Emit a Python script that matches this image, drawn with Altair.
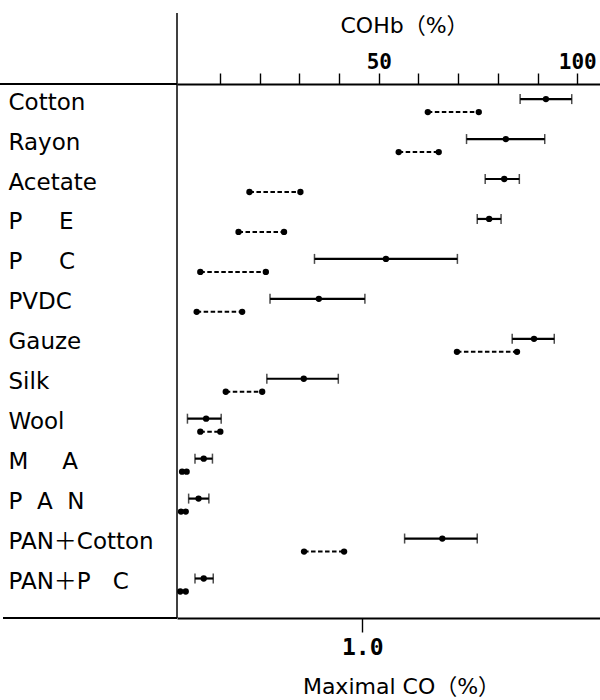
import altair as alt
import pandas as pd

NB = "\u00a0"
materials = [
    "Cotton", "Rayon", "Acetate", "P" + NB * 5 + "E", "P" + NB * 5 + "C", "PVDC",
    "Gauze", "Silk", "Wool", "M" + NB * 4 + "\u2009A", "P" + NB * 2 + "A" + NB * 2 + "N",
    "PAN\uff0bCotton", "PAN\uff0bP" + NB * 3 + "C",
]
# COHb (%) : mean with lower / upper bar ends (top axis)
cohb_lo = [85.6, 72.1, 76.8, 74.8, 33.8, 22.6, 83.6, 21.8, 1.8, 3.7, 2.1, 56.5, 3.7]
cohb_mean = [92.1, 82.0, 81.6, 77.8, 51.8, 34.9, 89.1, 31.1, 6.5, 5.9, 4.6, 66.0, 5.9]
cohb_hi = [98.6, 91.8, 85.4, 80.8, 69.8, 46.5, 94.2, 39.8, 10.3, 8.1, 7.2, 74.8, 8.3]
# Maximal CO (%) : range (bottom axis)
co_lo = [1.36, 1.20, 0.38, 0.32, 0.11, 0.09, 1.52, 0.25, 0.11, 0.01, 0.004, 0.68, 0.0]
co_hi = [1.64, 1.42, 0.66, 0.57, 0.47, 0.34, 1.85, 0.45, 0.22, 0.035, 0.03, 0.90, 0.03]

cohb_ticks = [10, 20, 30, 40, 50, 60, 70, 80, 90, 100]
co_ticks = [1.0]

df = pd.DataFrame({
    "material": materials,
    "cohb_lo": cohb_lo, "cohb_mean": cohb_mean, "cohb_hi": cohb_hi,
    "co_lo": co_lo, "co_hi": co_hi,
})

LABEL_FONT = "DejaVu Sans, Noto Sans CJK JP"
NUM_FONT = "DejaVu Sans Mono"

y_enc = alt.Y(
    "material:N", sort=materials, title=None,
    scale=alt.Scale(paddingInner=0, paddingOuter=0.1835, align=0.111),
    axis=alt.Axis(
        ticks=False, tickSize=0, domain=False, labelAlign="left", labelPadding=169,
        labelFont=LABEL_FONT, labelFontSize=23, labelColor="black",
        labelBaseline="middle", labelOffset=-3, labelLimit=0,
    ),
)

cohb_scale = alt.Scale(domain=[-0.83, 105.72], nice=False, zero=False)
cohb_axis = alt.Axis(
    orient="top", values=cohb_ticks, grid=False,
    labelExpr="datum.value == 50 || datum.value == 100 ? datum.label : ''",
    tickSize=11, tickWidth=1.4, tickColor="black",
    domainColor="black", domainWidth=1.8,
    labelFont=NUM_FONT, labelFontSize=21, labelFontWeight="bold", labelColor="black",
    labelBaseline="alphabetic", labelPadding=5,
    title="COHb\uff08%\uff09", titleFont=LABEL_FONT, titleFontSize=22,
    titleFontWeight="normal", titleColor="black",
    titleX=227, titleY=-52, titleAlign="center", titleBaseline="alphabetic", titleAngle=0,
)
co_scale = alt.Scale(domain=[-0.018, 2.306], nice=False, zero=False)
co_axis = alt.Axis(
    orient="bottom", values=co_ticks, format=".1f", grid=False,
    tickSize=14, tickWidth=1.4, tickColor="black",
    domainColor="black", domainWidth=1.8,
    labelFont=NUM_FONT, labelFontSize=23, labelFontWeight="bold", labelColor="black",
    labelBaseline="top", labelPadding=4,
    title="Maximal CO\uff08%\uff09", titleFont=LABEL_FONT, titleFontSize=22,
    titleFontWeight="normal", titleColor="black",
    titleX=224, titleY=75, titleAlign="center", titleBaseline="alphabetic", titleAngle=0,
)

base = alt.Chart(df)

def xc(field):
    return alt.X(field + ":Q", scale=cohb_scale, axis=cohb_axis)

def xo(field):
    return alt.X(field + ":Q", scale=co_scale, axis=co_axis)

SOLID_OFF = -6.5
DASH_OFF = 6.5

cohb_rule = base.mark_rule(color="black", strokeWidth=2.2, yOffset=SOLID_OFF).encode(
    x=xc("cohb_lo"), x2="cohb_hi:Q", y=y_enc)
cap_lo = base.mark_tick(color="black", thickness=1.5, size=10, yOffset=SOLID_OFF).encode(
    x=xc("cohb_lo"), y=y_enc)
cap_hi = base.mark_tick(color="black", thickness=1.5, size=10, yOffset=SOLID_OFF).encode(
    x=xc("cohb_hi"), y=y_enc)
cohb_dot = base.mark_circle(color="black", opacity=1, size=40, yOffset=SOLID_OFF).encode(
    x=xc("cohb_mean"), y=y_enc)
cohb_layer = alt.layer(cohb_rule, cap_lo, cap_hi, cohb_dot)

co_rule = base.mark_rule(color="black", strokeWidth=2, strokeDash=[4.5, 2.5], yOffset=DASH_OFF).encode(
    x=xo("co_lo"), x2="co_hi:Q", y=y_enc)
co_dot_lo = base.mark_circle(color="black", opacity=1, size=40, yOffset=DASH_OFF).encode(
    x=xo("co_lo"), y=y_enc)
co_dot_hi = base.mark_circle(color="black", opacity=1, size=40, yOffset=DASH_OFF).encode(
    x=xo("co_hi"), y=y_enc)
co_layer = alt.layer(co_rule, co_dot_lo, co_dot_hi)

deco = alt.Chart(alt.Data(values=[{}]))
top_ext = deco.mark_rule(color="black", strokeWidth=1.8).encode(
    x=alt.value(-177), x2=alt.value(0), y=alt.value(0))
bot_ext = deco.mark_rule(color="black", strokeWidth=1.8).encode(
    x=alt.value(-174), x2=alt.value(0), y=alt.value(534))
vert = deco.mark_rule(color="black", strokeWidth=1.5).encode(
    x=alt.value(0), y=alt.value(-71), y2=alt.value(534))

chart = alt.layer(cohb_layer, co_layer, top_ext, bot_ext, vert).resolve_scale(
    x="independent"
).properties(
    width=423, height=534,
    padding={"left": 177, "top": 84, "right": 0, "bottom": 82},
    autosize=alt.AutoSizeParams(type="none"),
    background="white",
).configure_view(stroke=None)

chart.save("out.html", embed_options={"renderer": "svg", "actions": False})
